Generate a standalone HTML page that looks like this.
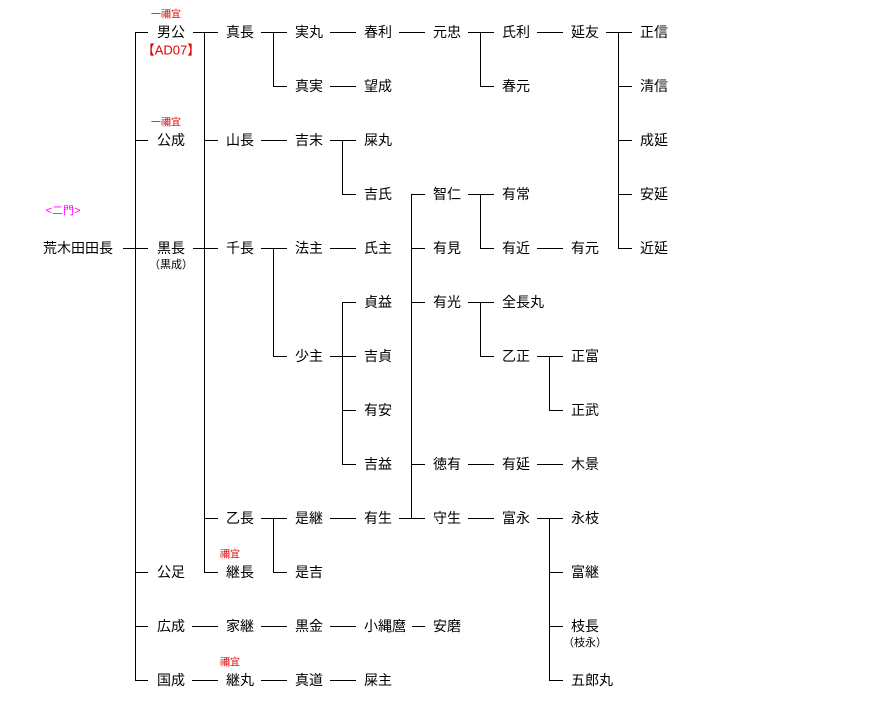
<!DOCTYPE html>
<html><head><meta charset="utf-8"><style>
html,body{margin:0;padding:0;background:#fff;}
svg{display:block;}
text{font-family:"Liberation Sans","Noto Sans CJK JP",sans-serif;font-size:14px;fill:#000;}
.s{font-size:11px;}
.r{fill:#e00000;font-size:10px;}
.m{fill:#ff00ff;font-size:11px;}
line{stroke:#000;stroke-width:1;shape-rendering:crispEdges;}
</style></head><body>
<svg width="874" height="718" viewBox="0 0 874 718" xmlns="http://www.w3.org/2000/svg">
<g>
<!-- col trunk -->
<line x1="123" y1="248.5" x2="135" y2="248.5"/>
<line x1="135.5" y1="32" x2="135.5" y2="680"/>
<line x1="135" y1="32.5" x2="148" y2="32.5"/>
<line x1="135" y1="140.5" x2="148" y2="140.5"/>
<line x1="135" y1="248.5" x2="148" y2="248.5"/>
<line x1="135" y1="572.5" x2="148" y2="572.5"/>
<line x1="135" y1="626.5" x2="148" y2="626.5"/>
<line x1="135" y1="680.5" x2="148" y2="680.5"/>
<!-- col 2 bracket -->
<line x1="193" y1="32.5" x2="204" y2="32.5"/>
<line x1="193" y1="248.5" x2="204" y2="248.5"/>
<line x1="204.5" y1="32" x2="204.5" y2="572"/>
<line x1="204" y1="32.5" x2="218" y2="32.5"/>
<line x1="204" y1="140.5" x2="218" y2="140.5"/>
<line x1="204" y1="248.5" x2="218" y2="248.5"/>
<line x1="204" y1="518.5" x2="218" y2="518.5"/>
<line x1="204" y1="572.5" x2="218" y2="572.5"/>
<line x1="192" y1="626.5" x2="218" y2="626.5"/>
<line x1="192" y1="680.5" x2="218" y2="680.5"/>
<!-- col 3 -->
<line x1="261" y1="32.5" x2="287" y2="32.5"/>
<line x1="273.5" y1="32" x2="273.5" y2="86"/>
<line x1="273" y1="86.5" x2="287" y2="86.5"/>
<line x1="261" y1="140.5" x2="287" y2="140.5"/>
<line x1="261" y1="248.5" x2="287" y2="248.5"/>
<line x1="273.5" y1="248" x2="273.5" y2="356"/>
<line x1="273" y1="356.5" x2="287" y2="356.5"/>
<line x1="261" y1="518.5" x2="287" y2="518.5"/>
<line x1="273.5" y1="518" x2="273.5" y2="572"/>
<line x1="273" y1="572.5" x2="287" y2="572.5"/>
<line x1="261" y1="626.5" x2="287" y2="626.5"/>
<line x1="261" y1="680.5" x2="287" y2="680.5"/>
<!-- col 4 -->
<line x1="330" y1="32.5" x2="356" y2="32.5"/>
<line x1="330" y1="86.5" x2="356" y2="86.5"/>
<line x1="330" y1="140.5" x2="356" y2="140.5"/>
<line x1="342.5" y1="140" x2="342.5" y2="194"/>
<line x1="342" y1="194.5" x2="356" y2="194.5"/>
<line x1="330" y1="248.5" x2="356" y2="248.5"/>
<line x1="330" y1="356.5" x2="342" y2="356.5"/>
<line x1="342.5" y1="302" x2="342.5" y2="464"/>
<line x1="342" y1="302.5" x2="356" y2="302.5"/>
<line x1="342" y1="356.5" x2="356" y2="356.5"/>
<line x1="342" y1="410.5" x2="356" y2="410.5"/>
<line x1="342" y1="464.5" x2="356" y2="464.5"/>
<line x1="330" y1="518.5" x2="356" y2="518.5"/>
<line x1="330" y1="626.5" x2="356" y2="626.5"/>
<line x1="330" y1="680.5" x2="356" y2="680.5"/>
<!-- col 5 -->
<line x1="399" y1="32.5" x2="425" y2="32.5"/>
<line x1="399" y1="518.5" x2="411" y2="518.5"/>
<line x1="411.5" y1="194" x2="411.5" y2="518"/>
<line x1="411" y1="194.5" x2="425" y2="194.5"/>
<line x1="411" y1="248.5" x2="425" y2="248.5"/>
<line x1="411" y1="302.5" x2="425" y2="302.5"/>
<line x1="411" y1="464.5" x2="425" y2="464.5"/>
<line x1="411" y1="518.5" x2="425" y2="518.5"/>
<line x1="412" y1="626.5" x2="425" y2="626.5"/>
<!-- col 6 -->
<line x1="468" y1="32.5" x2="494" y2="32.5"/>
<line x1="480.5" y1="32" x2="480.5" y2="86"/>
<line x1="480" y1="86.5" x2="494" y2="86.5"/>
<line x1="468" y1="194.5" x2="494" y2="194.5"/>
<line x1="480.5" y1="194" x2="480.5" y2="248"/>
<line x1="480" y1="248.5" x2="494" y2="248.5"/>
<line x1="468" y1="302.5" x2="494" y2="302.5"/>
<line x1="480.5" y1="302" x2="480.5" y2="356"/>
<line x1="480" y1="356.5" x2="494" y2="356.5"/>
<line x1="468" y1="464.5" x2="494" y2="464.5"/>
<line x1="468" y1="518.5" x2="494" y2="518.5"/>
<!-- col 7 -->
<line x1="537" y1="32.5" x2="563" y2="32.5"/>
<line x1="537" y1="248.5" x2="563" y2="248.5"/>
<line x1="537" y1="356.5" x2="563" y2="356.5"/>
<line x1="549.5" y1="356" x2="549.5" y2="410"/>
<line x1="549" y1="410.5" x2="563" y2="410.5"/>
<line x1="537" y1="464.5" x2="563" y2="464.5"/>
<line x1="537" y1="518.5" x2="563" y2="518.5"/>
<line x1="549.5" y1="518" x2="549.5" y2="680"/>
<line x1="549" y1="572.5" x2="563" y2="572.5"/>
<line x1="549" y1="626.5" x2="563" y2="626.5"/>
<line x1="549" y1="680.5" x2="563" y2="680.5"/>
<!-- col 8 -->
<line x1="606" y1="32.5" x2="632" y2="32.5"/>
<line x1="618.5" y1="32" x2="618.5" y2="248"/>
<line x1="618" y1="86.5" x2="632" y2="86.5"/>
<line x1="618" y1="140.5" x2="632" y2="140.5"/>
<line x1="618" y1="194.5" x2="632" y2="194.5"/>
<line x1="618" y1="248.5" x2="632" y2="248.5"/>
</g>
<g text-anchor="start" dominant-baseline="central">
<text x="43" y="248">荒木田田長</text>
<text x="157" y="32">男公</text>
<text x="157" y="140">公成</text>
<text x="157" y="248">黒長</text>
<text x="157" y="572">公足</text>
<text x="157" y="626">広成</text>
<text x="157" y="680">国成</text>
<text x="226" y="32">真長</text>
<text x="226" y="140">山長</text>
<text x="226" y="248">千長</text>
<text x="226" y="518">乙長</text>
<text x="226" y="572">継長</text>
<text x="226" y="626">家継</text>
<text x="226" y="680">継丸</text>
<text x="295" y="32">実丸</text>
<text x="295" y="86">真実</text>
<text x="295" y="140">吉末</text>
<text x="295" y="248">法主</text>
<text x="295" y="356">少主</text>
<text x="295" y="518">是継</text>
<text x="295" y="572">是吉</text>
<text x="295" y="626">黒金</text>
<text x="295" y="680">真道</text>
<text x="364" y="32">春利</text>
<text x="364" y="86">望成</text>
<text x="364" y="140">屎丸</text>
<text x="364" y="194">吉氏</text>
<text x="364" y="248">氏主</text>
<text x="364" y="302">貞益</text>
<text x="364" y="356">吉貞</text>
<text x="364" y="410">有安</text>
<text x="364" y="464">吉益</text>
<text x="364" y="518">有生</text>
<text x="364" y="626">小縄麿</text>
<text x="364" y="680">屎主</text>
<text x="433" y="32">元忠</text>
<text x="433" y="194">智仁</text>
<text x="433" y="248">有見</text>
<text x="433" y="302">有光</text>
<text x="433" y="464">徳有</text>
<text x="433" y="518">守生</text>
<text x="433" y="626">安磨</text>
<text x="502" y="32">氏利</text>
<text x="502" y="86">春元</text>
<text x="502" y="194">有常</text>
<text x="502" y="248">有近</text>
<text x="502" y="302">全長丸</text>
<text x="502" y="356">乙正</text>
<text x="502" y="464">有延</text>
<text x="502" y="518">富永</text>
<text x="571" y="32">延友</text>
<text x="571" y="248">有元</text>
<text x="571" y="356">正富</text>
<text x="571" y="410">正武</text>
<text x="571" y="464">木景</text>
<text x="571" y="518">永枝</text>
<text x="571" y="572">富継</text>
<text x="571" y="626">枝長</text>
<text x="571" y="680">五郎丸</text>
<text x="640" y="32">正信</text>
<text x="640" y="86">清信</text>
<text x="640" y="140">成延</text>
<text x="640" y="194">安延</text>
<text x="640" y="248">近延</text>
</g>
<g text-anchor="middle" dominant-baseline="central">
<text class="r" x="166" y="15">一禰宜</text>
<text class="r" x="166" y="123">一禰宜</text>
<text class="r" x="230" y="555">禰宜</text>
<text class="r" x="230" y="663">禰宜</text>
<text x="171" y="50" style="fill:#e00000;font-size:13px">【AD07】</text>
<text class="m" x="63" y="211">&lt;二門&gt;</text>
<text class="s" x="171" y="265">（黒成）</text>
<text class="s" x="585" y="643">（枝永）</text>
</g>
</svg>
</body></html>
